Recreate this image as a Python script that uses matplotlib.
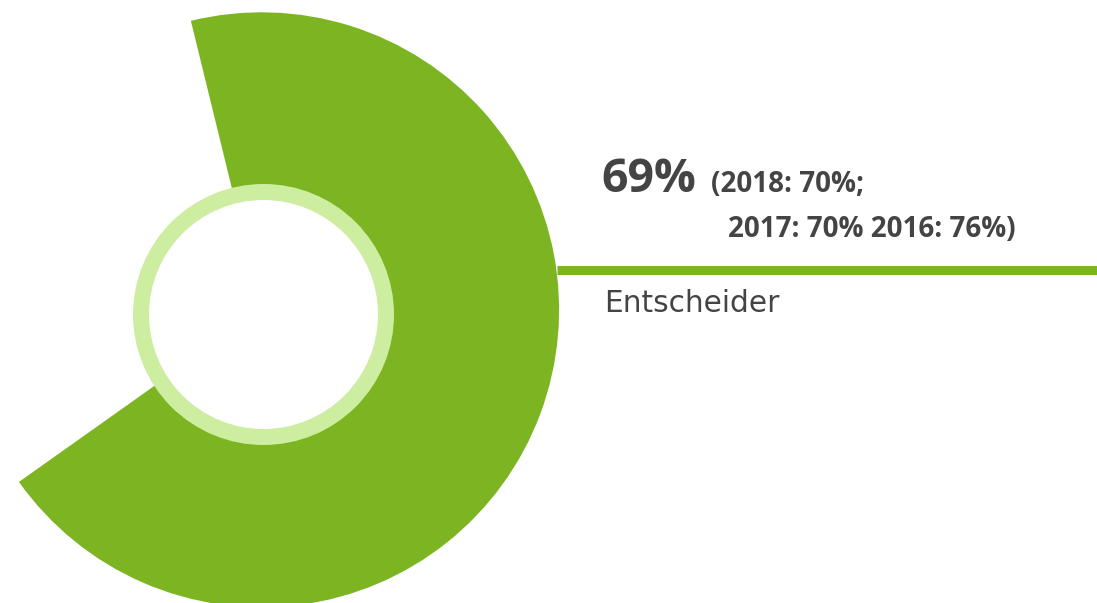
import matplotlib
matplotlib.use('Agg')
import matplotlib.pyplot as plt
from matplotlib.patches import Circle

# data
share = 69
rest = 100 - share
label_main = '69%'
label_prev1 = '(2018: 70%;'
label_prev2 = '2017: 70% 2016: 76%)'
label_group = 'Entscheider'

green = '#7cb521'
light = '#cdeea0'
grey = '#444444'

plt.rcParams['font.family'] = ['Open Sans', 'DejaVu Sans']

W, H = 1097, 603
fig = plt.figure(figsize=(W / 100, H / 100), dpi=100)
ax = fig.add_axes([0, 0, 1, 1])

# big wedge, centred at about -20 deg, drawn clockwise
span = share / 100 * 360
start = -20.45 + span / 2
ax.pie([share, rest], colors=[green, 'none'], startangle=start, counterclock=False,
       center=(261.6, H - 309.8), radius=297.5, frame=True,
       wedgeprops=dict(linewidth=0))

# light ring + white hole
ax.add_patch(Circle((263.5, H - 314.5), 130.5, color=light, lw=0))
ax.add_patch(Circle((263.5, H - 314.5), 114.5, color='white', lw=0))

# leader line
ax.plot([557, W], [H - 269.5, H - 269.5], color=green, lw=6.5, solid_capstyle='butt')

ax.text(601, H - 192, label_main, fontsize=33.5, fontweight='bold', color=grey, va='baseline')
ax.text(711, H - 192, label_prev1, fontsize=20, fontweight='bold', color=grey, va='baseline')
ax.text(728, H - 237, label_prev2, fontsize=20, fontweight='bold', color=grey, va='baseline')
ax.text(604, H - 311.7, label_group, fontsize=21.3, color=grey, va='baseline',
        family='DejaVu Sans')

ax.set_xlim(0, W)
ax.set_ylim(0, H)
ax.set_aspect('auto')
ax.axis('off')

fig.savefig('out.png', dpi=100)
